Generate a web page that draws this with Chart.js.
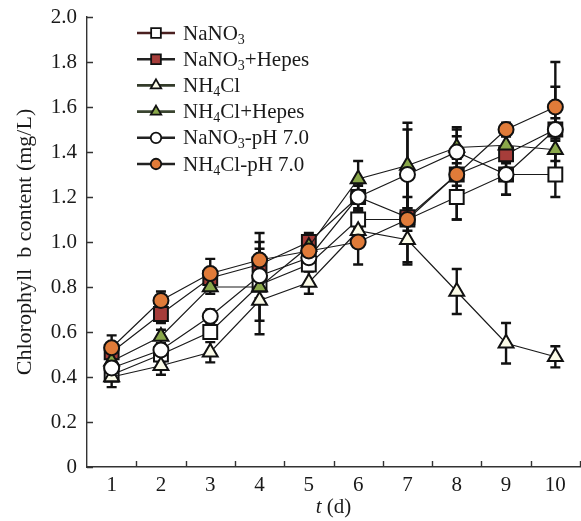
<!DOCTYPE html>
<html>
<head>
<meta charset="utf-8">
<script src="https://cdn.jsdelivr.net/npm/chart.js@4.4.1/dist/chart.umd.min.js"></script>
<style>
    html, body { margin: 0; padding: 0; background: #fff; }
    #wrap { width: 581px; height: 521px; }
</style>
</head>
<body>
<div id="wrap"><canvas id="chart" width="581" height="521"></canvas></div>
<script>
const days = ['1', '2', '3', '4', '5', '6', '7', '8', '9', '10'];
const yTicks = [0, 0.2, 0.4, 0.6, 0.8, 1.0, 1.2, 1.4, 1.6, 1.8, 2.0];

const nano3 = [0.41, 0.50, 0.60, 0.81, 0.90, 1.10, 1.10, 1.20, 1.30, 1.30];
const nano3Err = [0.02, 0.03, 0.03, 0.16, 0.03, 0.04, 0.05, 0.10, 0.09, 0.10];
const nano3Hepes = [0.51, 0.68, 0.84, 0.90, 1.00, 1.20, 1.11, 1.30, 1.39, 1.50];
const nano3HepesErr = [0.03, 0.04, 0.03, 0.10, 0.04, 0.06, 0.20, 0.05, 0.04, 0.05];
const nh4cl = [0.40, 0.45, 0.51, 0.74, 0.82, 1.05, 1.01, 0.78, 0.55, 0.49];
const nh4clErr = [0.045, 0.04, 0.045, 0.15, 0.05, 0.04, 0.11, 0.10, 0.09, 0.047];
const nh4clHepes = [0.47, 0.58, 0.80, 0.80, 0.98, 1.28, 1.34, 1.42, 1.43, 1.41];
const nh4clHepesErr = [0.03, 0.03, 0.03, 0.05, 0.04, 0.08, 0.19, 0.05, 0.04, 0.05];
const nano3Ph = [0.44, 0.52, 0.67, 0.85, 0.93, 1.20, 1.30, 1.40, 1.30, 1.50];
const nano3PhErr = [0.03, 0.03, 0.03, 0.05, 0.03, 0.05, 0.20, 0.11, 0.09, 0.19];
const nh4clPh = [0.53, 0.74, 0.86, 0.92, 0.96, 1.00, 1.10, 1.30, 1.50, 1.60];
const nh4clPhErr = [0.055, 0.04, 0.065, 0.12, 0.04, 0.10, 0.10, 0.20, 0.03, 0.20];

const serif = "'Liberation Serif', 'Times New Roman', serif";
const ink = '#1a1a1a';

function series(label, data, err, style, fill, radius, order, legendLine) {
    return {
        label,
        data,
        err,
        legendLine,
        order,
        borderColor: ink,
        borderWidth: 1.2,
        tension: 0,
        fill: false,
        pointStyle: style,
        pointRadius: radius,
        pointHoverRadius: radius,
        pointBackgroundColor: fill,
        pointBorderColor: '#111',
        pointBorderWidth: 2,
    };
}

const datasets = [
    series('NaNO₃', nano3, nano3Err, 'rect', '#ffffff', 9.8, 5, '#4a2020'),
    series('NaNO₃+Hepes', nano3Hepes, nano3HepesErr, 'rect', '#a63d3a', 9.8, 3, '#222'),
    series('NH₄Cl', nh4cl, nh4clErr, 'triangle', '#fbfbe8', 8.6, 4, '#333b2a'),
    series('NH₄Cl+Hepes', nh4clHepes, nh4clHepesErr, 'triangle', '#8aa84a', 8.6, 2, '#3a4530'),
    series('NaNO₃-pH 7.0', nano3Ph, nano3PhErr, 'circle', '#ffffff', 7.5, 1, '#222'),
    series('NH₄Cl-pH 7.0', nh4clPh, nh4clPhErr, 'circle', '#e07b39', 7.5, 0, '#222'),
];

// error bars under the markers
const errorBars = {
    id: 'errorBars',
    beforeDatasetsDraw(chart) {
        const { ctx, scales: { y } } = chart;
        ctx.save();
        ctx.strokeStyle = '#111';
        ctx.lineWidth = 2.4;
        chart.data.datasets.forEach((ds, i) => {
            const meta = chart.getDatasetMeta(i);
            meta.data.forEach((pt, j) => {
                const e = ds.err[j];
                const top = y.getPixelForValue(ds.data[j] + e);
                const bot = y.getPixelForValue(ds.data[j] - e);
                ctx.beginPath();
                ctx.moveTo(pt.x, top);
                ctx.lineTo(pt.x, bot);
                ctx.moveTo(pt.x - 5, top);
                ctx.lineTo(pt.x + 5, top);
                ctx.moveTo(pt.x - 5, bot);
                ctx.lineTo(pt.x + 5, bot);
                ctx.stroke();
            });
        });
        ctx.restore();
    },
};

function drawMarker(ctx, style, x, y, r) {
    ctx.beginPath();
    if (style === 'rect') {
        const s = r * Math.SQRT1_2;
        ctx.rect(x - s, y - s, 2 * s, 2 * s);
    } else if (style === 'triangle') {
        for (let k = 0; k < 3; k++) {
            const a = k * 2 * Math.PI / 3;
            const px = x + Math.sin(a) * r;
            const py = y - Math.cos(a) * r;
            if (k === 0) ctx.moveTo(px, py); else ctx.lineTo(px, py);
        }
        ctx.closePath();
    } else {
        ctx.arc(x, y, r, 0, Math.PI * 2);
    }
    ctx.fill();
    ctx.stroke();
}

function drawSubText(ctx, text, x, y, size) {
    const subs = '₀₁₂₃₄₅₆₇₈₉';
    let cx = x;
    for (const ch of text) {
        const k = subs.indexOf(ch);
        if (k >= 0) {
            ctx.font = `${Math.round(size * 0.65)}px ${serif}`;
            ctx.fillText(String(k), cx, y + size * 0.28);
            cx += ctx.measureText(String(k)).width;
        } else {
            ctx.font = `${size}px ${serif}`;
            ctx.fillText(ch, cx, y);
            cx += ctx.measureText(ch).width;
        }
    }
}

// legend with line + marker, inward ticks and italic x title
const decorations = {
    id: 'decorations',
    afterDraw(chart) {
        const { ctx, chartArea, scales: { x, y } } = chart;
        ctx.save();

        ctx.strokeStyle = '#333';
        ctx.lineWidth = 1.4;
        ctx.beginPath();
        yTicks.forEach((v) => {
            const py = Math.round(y.getPixelForValue(v)) + 0.5;
            ctx.moveTo(chartArea.left, py);
            ctx.lineTo(chartArea.left + 6, py);
        });
        const step = x.getPixelForValue(1) - x.getPixelForValue(0);
        for (let i = 0; i < days.length; i++) {
            const px = Math.round(x.getPixelForValue(i) + step / 2) + 0.5;
            ctx.moveTo(px, chartArea.bottom);
            ctx.lineTo(px, chartArea.bottom - 6);
        }
        ctx.stroke();

        ctx.textBaseline = 'middle';
        ctx.textAlign = 'left';
        chart.data.datasets.forEach((ds, i) => {
            const ly = 33 + i * 26.2;
            ctx.strokeStyle = ds.legendLine;
            ctx.lineWidth = 2.6;
            ctx.beginPath();
            ctx.moveTo(137, ly);
            ctx.lineTo(175, ly);
            ctx.stroke();
            ctx.fillStyle = ds.pointBackgroundColor;
            ctx.strokeStyle = '#111';
            ctx.lineWidth = 1.8;
            drawMarker(ctx, ds.pointStyle, 156, ly, ds.pointRadius * 0.7);
            ctx.fillStyle = ink;
            drawSubText(ctx, ds.label, 183, ly + 1, 21);
        });

        const tx = (chartArea.left + chartArea.right) / 2;
        ctx.font = `italic 21px ${serif}`;
        const w1 = ctx.measureText('t').width;
        ctx.font = `21px ${serif}`;
        const w2 = ctx.measureText(' (d)').width;
        const sx = tx - (w1 + w2) / 2;
        ctx.font = `italic 21px ${serif}`;
        ctx.fillText('t', sx, 507);
        ctx.font = `21px ${serif}`;
        ctx.fillText(' (d)', sx + w1, 507);
        ctx.restore();
    },
};

new Chart(document.getElementById('chart'), {
    type: 'line',
    data: { labels: days, datasets },
    options: {
        responsive: false,
        animation: false,
        layout: { autoPadding: false, padding: { top: 17, right: 1, left: 0, bottom: 0 } },
        plugins: { legend: { display: false }, tooltip: { enabled: false } },
        scales: {
            x: {
                offset: true,
                grid: { display: false, drawTicks: false },
                border: { display: true, color: '#333', width: 1.4 },
                ticks: { color: ink, font: { family: serif, size: 21 }, padding: 6, maxRotation: 0 },
                afterFit(scale) {
                    scale.height = 54;
                    scale.paddingLeft = 0;
                    scale.paddingRight = 0;
                },
            },
            y: {
                min: 0,
                max: 2,
                afterBuildTicks(scale) { scale.ticks = yTicks.map((v) => ({ value: v })); },
                grid: { display: false, drawTicks: false },
                border: { display: true, color: '#333', width: 1.4 },
                ticks: {
                    color: ink,
                    font: { family: serif, size: 21 },
                    padding: 10,
                    callback: (v) => (v === 0 ? '0' : v.toFixed(1)),
                },
                title: {
                    display: true,
                    text: 'Chlorophyll  b content (mg/L)',
                    color: ink,
                    font: { family: serif, size: 22 },
                    padding: { top: 12, bottom: 0 },
                },
                afterFit(scale) {
                    scale.width = 87;
                    scale.paddingTop = 0;
                    scale.paddingBottom = 0;
                },
            },
        },
    },
    plugins: [errorBars, decorations],
});
</script>
</body>
</html>
